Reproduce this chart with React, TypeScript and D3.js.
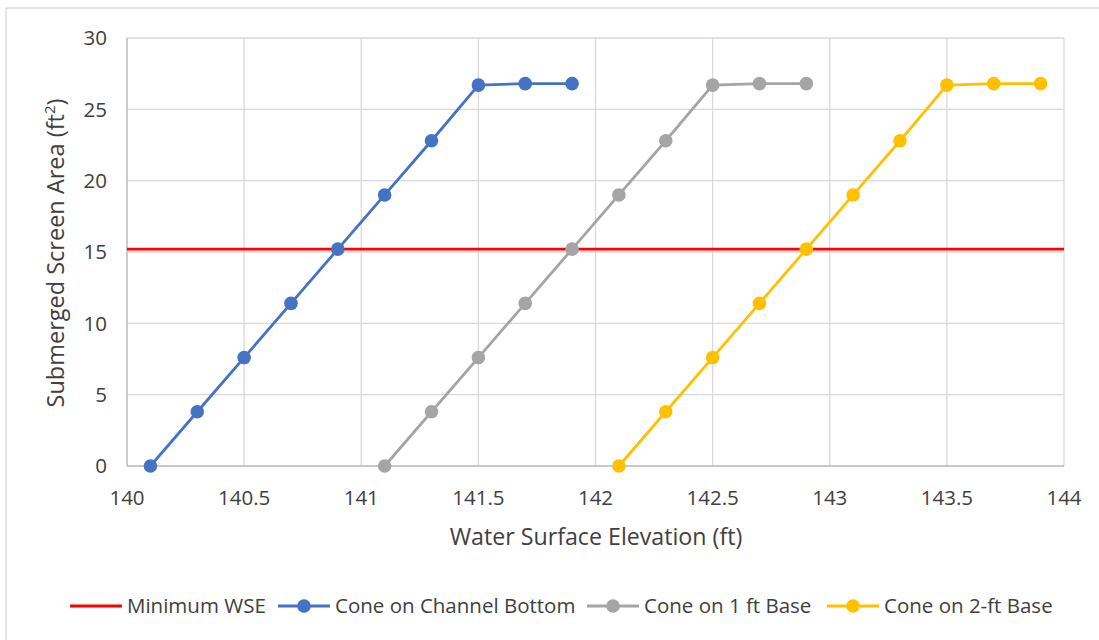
import React from "react";
import * as d3 from "d3";

// Water surface elevation (ft) for each series
const wseChannel = [140.1, 140.3, 140.5, 140.7, 140.9, 141.1, 141.3, 141.5, 141.7, 141.9];
const wseBase1 = [141.1, 141.3, 141.5, 141.7, 141.9, 142.1, 142.3, 142.5, 142.7, 142.9];
const wseBase2 = [142.1, 142.3, 142.5, 142.7, 142.9, 143.1, 143.3, 143.5, 143.7, 143.9];
// Submerged screen area (ft²), identical profile for each cone placement
const areaChannel = [0, 3.8, 7.6, 11.4, 15.2, 19.0, 22.8, 26.7, 26.8, 26.8];
const areaBase1 = [0, 3.8, 7.6, 11.4, 15.2, 19.0, 22.8, 26.7, 26.8, 26.8];
const areaBase2 = [0, 3.8, 7.6, 11.4, 15.2, 19.0, 22.8, 26.7, 26.8, 26.8];
const minimumArea = 15.2;

const xTicks = [140, 140.5, 141, 141.5, 142, 142.5, 143, 143.5, 144];
const yTicks = [0, 5, 10, 15, 20, 25, 30];

const seriesNames = ["Minimum WSE", "Cone on Channel Bottom", "Cone on 1 ft Base", "Cone on 2-ft Base"];
const colors = ["#FF0000", "#4472C4", "#A5A5A5", "#FFC000"];

const W = 1099;
const H = 640;
const M = { left: 127, right: 1064, top: 38, bottom: 466 };
const FONT = "'Open Sans', 'Noto Sans', sans-serif";

export default function App() {
  const x = d3.scaleLinear().domain([140, 144]).range([M.left, M.right]);
  const y = d3.scaleLinear().domain([0, 30]).range([M.bottom, M.top]);

  const series = [
    { xs: wseChannel, ys: areaChannel, color: colors[1] },
    { xs: wseBase1, ys: areaBase1, color: colors[2] },
    { xs: wseBase2, ys: areaBase2, color: colors[3] },
  ];

  const line = d3
    .line<[number, number]>()
    .x((d) => x(d[0]))
    .y((d) => y(d[1]));

  const legendX = [70, 278, 587, 827];

  return (
    <svg
      width={W}
      height={H}
      style={{ position: "absolute", left: 0, top: 0, background: "#fff" }}
      fontFamily={FONT}
    >
      <rect x={6} y={8} width={W + 10} height={H + 10} fill="#fff" stroke="#D9D9D9" strokeWidth={1.3} />

      {/* gridlines */}
      {yTicks.map((t) => (
        <line key={"gy" + t} x1={M.left} x2={M.right} y1={y(t)} y2={y(t)} stroke="#D9D9D9" strokeWidth={1.3} />
      ))}
      {xTicks.map((t) => (
        <line key={"gx" + t} x1={x(t)} x2={x(t)} y1={M.top} y2={M.bottom} stroke="#D9D9D9" strokeWidth={1.3} />
      ))}
      <line x1={M.left} x2={M.right} y1={M.bottom} y2={M.bottom} stroke="#BFBFBF" strokeWidth={1.3} />
      <line x1={M.left} x2={M.left} y1={M.top} y2={M.bottom} stroke="#BFBFBF" strokeWidth={1.3} />

      {/* tick labels */}
      {yTicks.map((t) => (
        <text key={"ty" + t} x={107} y={y(t)} dy="0.35em" textAnchor="end" fontSize={20.5} fill="#404040">
          {t}
        </text>
      ))}
      {xTicks.map((t) => (
        <text key={"tx" + t} x={x(t)} y={505} textAnchor="middle" fontSize={20.5} fill="#404040">
          {t}
        </text>
      ))}

      {/* axis titles */}
      <text x={596} y={545} textAnchor="middle" fontSize={23.2} fill="#404040">
        Water Surface Elevation (ft)
      </text>
      <text transform={`translate(64,253) rotate(-90)`} textAnchor="middle" fontSize={23.5} fill="#404040">
        Submerged Screen Area (ft
        <tspan dy={-9} fontSize={15}>2</tspan>
        <tspan dy={9}>)</tspan>
      </text>

      {/* minimum WSE reference line */}
      <line x1={M.left} x2={M.right} y1={y(minimumArea)} y2={y(minimumArea)} stroke={colors[0]} strokeWidth={2.8} />

      {/* series */}
      {series.map((s, i) => {
        const pts: [number, number][] = s.xs.map((v, k) => [v, s.ys[k]]);
        return (
          <g key={"s" + i}>
            <path d={line(pts) || ""} fill="none" stroke={s.color} strokeWidth={2.8} strokeLinejoin="round" />
            {pts.map((p, k) => (
              <circle key={k} cx={x(p[0])} cy={y(p[1])} r={6.8} fill={s.color} />
            ))}
          </g>
        );
      })}

      {/* legend */}
      {seriesNames.map((name, i) => (
        <g key={"l" + i} transform={`translate(${legendX[i]},606)`}>
          <line x1={0} x2={52} y1={0} y2={0} stroke={colors[i]} strokeWidth={2.8} />
          {i > 0 && <circle cx={26} cy={0} r={6.8} fill={colors[i]} />}
          <text x={57} y={0} dy="0.35em" fontSize={20.5} fill="#404040">
            {name}
          </text>
        </g>
      ))}
    </svg>
  );
}
